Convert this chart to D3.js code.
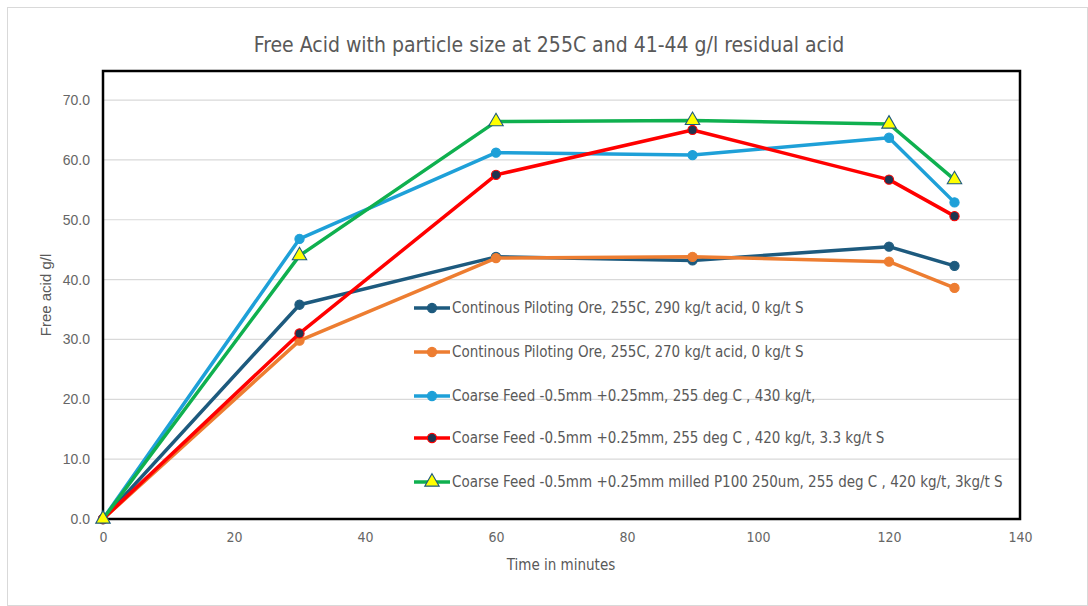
<!DOCTYPE html>
<html>
<head>
<meta charset="utf-8">
<script src="https://cdn.jsdelivr.net/npm/d3@7"></script>
<style>
  body { margin: 0; background: #fff; }
  svg { display: block; }
</style>
</head>
<body>
<svg id="chart" width="1088" height="606"></svg>
<script>
// Sampling times (minutes)
const times = [0, 30, 60, 90, 120, 130];

// Free acid (g/l) per test
const pilot290 = [0, 35.8, 43.8, 43.2, 45.5, 42.3];
const pilot270 = [0, 29.8, 43.6, 43.8, 43.0, 38.6];
const coarse430 = [0, 46.8, 61.2, 60.8, 63.7, 52.9];
const coarse420S = [0, 31.0, 57.5, 65.0, 56.7, 50.6];
const milled420S = [0, 44.0, 66.4, 66.6, 66.0, 56.7];

const seriesNames = [
  "Continous Piloting Ore, 255C, 290 kg/t acid, 0 kg/t S",
  "Continous Piloting Ore, 255C, 270 kg/t acid, 0 kg/t S",
  "Coarse Feed -0.5mm +0.25mm, 255 deg C , 430 kg/t,",
  "Coarse Feed -0.5mm +0.25mm, 255 deg C , 420 kg/t, 3.3 kg/t S",
  "Coarse Feed -0.5mm +0.25mm milled P100 250um, 255 deg C , 420 kg/t, 3kg/t S"
];

const xTicks = [0, 20, 40, 60, 80, 100, 120, 140];
const yTicks = [0, 10, 20, 30, 40, 50, 60, 70];

const titleText = "Free Acid with particle size at 255C and 41-44 g/l residual acid";
const xTitle = "Time in minutes";
const yTitle = "Free acid g/l";

const series = [
  { name: seriesNames[0], values: pilot290, line: "#1d5a7e", fill: "#1d5a7e", stroke: "#1d5a7e", shape: "circle" },
  { name: seriesNames[1], values: pilot270, line: "#ed7d31", fill: "#ed7d31", stroke: "#ed7d31", shape: "circle" },
  { name: seriesNames[2], values: coarse430, line: "#1ea0d8", fill: "#1ea0d8", stroke: "#1ea0d8", shape: "circle" },
  { name: seriesNames[3], values: coarse420S, line: "#ff0000", fill: "#1f3550", stroke: "#ff0000", shape: "circle" },
  { name: seriesNames[4], values: milled420S, line: "#0fb04f", fill: "#ffff00", stroke: "#1d5a7e", shape: "triangle" }
];

const svg = d3.select("#chart");
const narrow = "'Liberation Sans Narrow', 'Arial Narrow', 'DejaVu Sans Condensed', sans-serif";
const regular = "'Liberation Sans', Arial, sans-serif";

// Outer chart border
svg.append("rect")
  .attr("x", 7.5).attr("y", 7.5)
  .attr("width", 1080).attr("height", 598)
  .attr("fill", "#fff").attr("stroke", "#d9d9d9").attr("stroke-width", 1);

const plotL = 103, plotR = 1020, plotT = 71, plotB = 519;

const x = d3.scaleLinear().domain([0, 140]).range([plotL, plotR]);
const y = d3.scaleLinear().domain([0, 74.85]).range([plotB, plotT]);

// Title
svg.append("text")
  .attr("x", 549).attr("y", 52)
  .attr("text-anchor", "middle")
  .attr("font-family", narrow)
  .attr("font-size", 21)
  .attr("fill", "#595959")
  .text(titleText);

// Horizontal gridlines
svg.append("g")
  .selectAll("line")
  .data(yTicks.filter(d => d > 0))
  .join("line")
  .attr("x1", plotL).attr("x2", plotR)
  .attr("y1", d => y(d)).attr("y2", d => y(d))
  .attr("stroke", "#d9d9d9").attr("stroke-width", 1.2);

// Y axis labels
const yAxis = d3.axisLeft(y).tickValues(yTicks).tickFormat(d3.format(".1f")).tickSize(0).tickPadding(13);
const gy = svg.append("g").attr("transform", `translate(${plotL},0)`).call(yAxis);
gy.select(".domain").remove();
gy.selectAll("text")
  .attr("font-family", regular).attr("font-size", 14).attr("fill", "#666");

// X axis labels
const xAxis = d3.axisBottom(x).tickValues(xTicks).tickFormat(d3.format("d")).tickSize(0).tickPadding(13);
const gx = svg.append("g").attr("transform", `translate(0,${plotB})`).call(xAxis);
gx.select(".domain").remove();
gx.selectAll("text")
  .attr("font-family", narrow).attr("font-size", 14).attr("fill", "#666");

// Axis titles
svg.append("text")
  .attr("x", 561).attr("y", 570)
  .attr("text-anchor", "middle")
  .attr("font-family", narrow).attr("font-size", 15).attr("fill", "#595959")
  .text(xTitle);

svg.append("text")
  .attr("transform", `translate(51,${(plotT + plotB) / 2}) rotate(-90)`)
  .attr("text-anchor", "middle")
  .attr("font-family", regular).attr("font-size", 15).attr("fill", "#595959")
  .text(yTitle);

// Plot frame
svg.append("rect")
  .attr("x", plotL).attr("y", plotT)
  .attr("width", plotR - plotL).attr("height", plotB - plotT)
  .attr("fill", "none").attr("stroke", "#000").attr("stroke-width", 2.5);

const line = d3.line().x((d, i) => x(times[i])).y(d => y(d));
const tri = d3.symbol().type(d3.symbolTriangle).size(90);

function drawMarker(g, s, cx, cy) {
  if (s.shape === "triangle") {
    g.append("path")
      .attr("d", tri())
      .attr("transform", `translate(${cx},${cy})`)
      .attr("fill", s.fill).attr("stroke", s.stroke).attr("stroke-width", 1.1);
  } else {
    g.append("circle")
      .attr("cx", cx).attr("cy", cy).attr("r", 4.6)
      .attr("fill", s.fill).attr("stroke", s.stroke).attr("stroke-width", 1.1);
  }
}

// Series lines and markers
series.forEach(s => {
  const g = svg.append("g");
  g.append("path")
    .attr("d", line(s.values))
    .attr("fill", "none")
    .attr("stroke", s.line)
    .attr("stroke-width", 3.5)
    .attr("stroke-linejoin", "round");
  s.values.forEach((v, i) => drawMarker(g, s, x(times[i]), y(v)));
});

// Legend
const legendX = 414, legendRows = [308, 352, 396, 438, 482];
series.forEach((s, i) => {
  const g = svg.append("g");
  const ly = legendRows[i];
  g.append("line")
    .attr("x1", legendX).attr("x2", legendX + 36)
    .attr("y1", ly).attr("y2", ly)
    .attr("stroke", s.line).attr("stroke-width", 3.5);
  drawMarker(g, s, legendX + 18, ly);
  g.append("text")
    .attr("x", legendX + 38).attr("y", ly + 5)
    .attr("font-family", narrow).attr("font-size", 15).attr("fill", "#595959")
    .text(s.name);
});
</script>
</body>
</html>
